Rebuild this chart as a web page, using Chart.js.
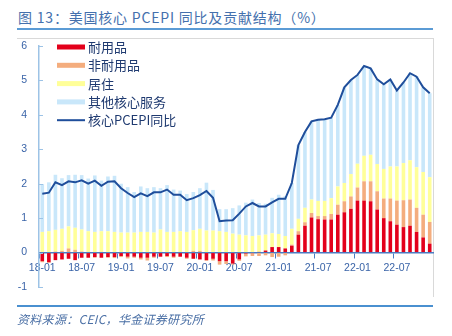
<!DOCTYPE html>
<html>
<head>
<meta charset="utf-8">
<script src="https://cdn.jsdelivr.net/npm/chart.js@4.4.1/dist/chart.umd.min.js"></script>
<style>
html,body{margin:0;padding:0;background:#fff;width:452px;height:336px;overflow:hidden;}
#wrap{position:relative;width:452px;height:336px;}
#title{position:absolute;left:18px;top:7px;line-height:20px;font-size:14px;letter-spacing:0.8px;font-family:'Noto Sans CJK SC',sans-serif;color:#4470ad;white-space:nowrap;}
#tline{position:absolute;left:17px;top:28px;width:416px;height:2px;background:#5b9bd5;}
#frameTop{position:absolute;left:17px;top:38px;width:416px;height:1px;background:#d9d9d9;}
#frameRight{position:absolute;left:433px;top:38px;width:1px;height:259px;background:#d9d9d9;}
#bline{position:absolute;left:17px;top:305px;width:416px;height:2px;background:#4a90d0;}
#src{position:absolute;left:17px;top:311px;line-height:16px;font-size:12px;letter-spacing:0.3px;font-style:italic;font-family:'Noto Sans CJK SC',sans-serif;color:#4a6fa5;white-space:nowrap;}
canvas{position:absolute;left:0;top:0;}
</style>
</head>
<body>
<div id="wrap">
  <div id="title">图 13：美国核心 PCEPI 同比及贡献结构（%）</div>
  <div id="tline"></div>
  <div id="frameTop"></div>
  <div id="frameRight"></div>
  <canvas id="c" width="452" height="336"></canvas>
  <div id="bline"></div>
  <div id="src">资料来源：CEIC，华金证券研究所</div>
</div>
<script>
const months = [
 '18-01','18-02','18-03','18-04','18-05','18-06','18-07','18-08','18-09','18-10','18-11','18-12',
 '19-01','19-02','19-03','19-04','19-05','19-06','19-07','19-08','19-09','19-10','19-11','19-12',
 '20-01','20-02','20-03','20-04','20-05','20-06','20-07','20-08','20-09','20-10','20-11','20-12',
 '21-01','21-02','21-03','21-04','21-05','21-06','21-07','21-08','21-09','21-10','21-11','21-12',
 '22-01','22-02','22-03','22-04','22-05','22-06','22-07','22-08','22-09','22-10','22-11','22-12'
];
const shownLabels = ['18-01','18-07','19-01','19-07','20-01','20-07','21-01','21-07','22-01','22-07'];

const durable = [
 -0.25,-0.28,-0.22,-0.20,-0.18,-0.22,-0.15,-0.15,-0.13,-0.15,-0.13,-0.13,
 -0.10,-0.12,-0.12,-0.15,-0.15,-0.12,-0.12,-0.10,-0.12,-0.12,-0.15,-0.18,
 -0.20,-0.22,-0.18,-0.25,-0.25,-0.32,-0.20,-0.03,-0.02,0.02,0.06,0.16,
 0.16,0.12,0.20,0.52,0.78,1.02,0.97,0.96,0.96,1.10,1.17,1.27,
 1.51,1.51,1.49,1.25,1.00,0.91,0.81,0.74,0.78,0.60,0.44,0.26
];
const nondurable = [
 -0.03,-0.02,0.03,0.05,0.12,0.08,0.03,0.02,-0.02,0.02,-0.02,-0.03,
 -0.03,-0.05,-0.03,-0.05,-0.08,-0.03,0.02,-0.03,-0.03,0.02,-0.03,0.05,
 0.05,-0.02,-0.05,-0.10,-0.08,-0.03,-0.04,-0.08,-0.08,-0.10,-0.08,-0.13,
 -0.12,-0.08,0.03,0.10,0.10,0.13,0.09,0.10,0.16,0.29,0.32,0.36,
 0.38,0.56,0.58,0.53,0.57,0.66,0.70,0.78,0.76,0.70,0.66,0.63
];
const housing = [
 0.60,0.62,0.63,0.64,0.64,0.64,0.64,0.60,0.60,0.60,0.62,0.60,
 0.58,0.58,0.58,0.60,0.60,0.58,0.65,0.60,0.60,0.60,0.60,0.60,
 0.64,0.64,0.64,0.62,0.60,0.55,0.52,0.50,0.48,0.48,0.46,0.40,
 0.38,0.36,0.46,0.36,0.42,0.39,0.44,0.44,0.46,0.53,0.53,0.65,
 0.69,0.74,0.77,0.79,0.86,0.93,0.99,1.08,1.14,1.18,1.24,1.30
];
const otherServices = [
 1.39,1.42,1.60,1.47,1.49,1.54,1.58,1.53,1.64,1.47,1.59,1.63,
 1.42,1.32,1.18,1.32,1.27,1.32,1.20,1.36,1.23,1.18,1.10,1.11,
 1.18,1.39,1.18,0.64,0.66,0.74,0.85,0.95,1.06,0.94,0.90,1.03,
 1.14,1.16,1.33,2.14,2.20,2.27,2.36,2.37,2.34,2.37,2.78,2.73,
 2.58,2.61,2.51,2.46,2.46,2.53,2.21,2.34,2.53,2.64,2.46,2.44
];
const corePCE = [
 1.71,1.74,2.04,1.96,2.07,2.04,2.10,2.00,2.09,1.94,2.06,2.07,
 1.87,1.73,1.61,1.72,1.64,1.75,1.75,1.83,1.68,1.68,1.52,1.58,
 1.67,1.79,1.59,0.91,0.93,0.94,1.13,1.34,1.44,1.34,1.34,1.46,
 1.56,1.56,2.02,3.12,3.50,3.81,3.86,3.87,3.92,4.29,4.80,5.01,
 5.16,5.42,5.35,5.03,4.89,5.03,4.71,4.94,5.21,5.11,4.80,4.63
];
const yTicks = [-1,0,1,2,3,4,5,6];

const axisColor = '#3a64a8';
const tickFont = {family:"'Liberation Sans', Arial, sans-serif", size:10.5};

const legendPlugin = {
  id:'customLegend',
  afterDraw(chart){
    const ctx = chart.ctx;
    const x0 = chart.chartArea.left + 18, sw = 28, rowH = 18.3;
    const y0 = chart.chartArea.top + 1;
    ctx.save();
    ctx.font = "13px 'Noto Sans CJK SC'";
    ctx.textBaseline = 'middle';
    ctx.textAlign = 'left';
    chart.data.datasets.forEach((ds,k)=>{
      const y = y0 + k*rowH;
      if (ds.type === 'line') {
        ctx.strokeStyle = ds.borderColor; ctx.lineWidth = 2;
        ctx.beginPath(); ctx.moveTo(x0,y); ctx.lineTo(x0+sw,y); ctx.stroke();
      } else {
        ctx.fillStyle = ds.backgroundColor;
        ctx.fillRect(x0, y-2.5, sw, 5);
      }
      ctx.fillStyle = '#1f3a70';
      ctx.fillText(ds.label, x0+sw+3, y);
    });
    ctx.restore();
  }
};
const yTickPlugin = {
  id:'yInnerTicks',
  afterDraw(chart){
    const ctx = chart.ctx, ys = chart.scales.y, left = chart.chartArea.left;
    ctx.save();
    ctx.strokeStyle = '#9dc3e6'; ctx.lineWidth = 1;
    yTicks.forEach(v=>{
      const p = Math.round(ys.getPixelForValue(v)) + 0.5;
      ctx.beginPath(); ctx.moveTo(left, p); ctx.lineTo(left+4, p); ctx.stroke();
    });
    ctx.restore();
  }
};

const barBase = {type:'bar', barPercentage:0.55, categoryPercentage:1, borderWidth:0, order:1, stack:'s'};

new Chart(document.getElementById('c'), {
  data:{
    labels: months,
    datasets:[
      Object.assign({label:'耐用品', data:durable, backgroundColor:'#e3001b'}, barBase),
      Object.assign({label:'非耐用品', data:nondurable, backgroundColor:'#f4ad7e'}, barBase),
      Object.assign({label:'居住', data:housing, backgroundColor:'#ffff99'}, barBase),
      Object.assign({label:'其他核心服务', data:otherServices, backgroundColor:'#c9e7fa'}, barBase),
      {type:'line', label:'核心PCEPI同比', data:corePCE, borderColor:'#1f4e9b', backgroundColor:'#1f4e9b',
       borderWidth:2, pointRadius:0, tension:0, order:0, stack:'line', fill:false}
    ]
  },
  options:{
    responsive:false, animation:false, devicePixelRatio:1,
    layout:{padding:{left:0, top:46, right:19, bottom:49}},
    plugins:{legend:{display:false}, tooltip:{enabled:false}},
    scales:{
      x:{
        type:'category', position:{y:0}, offset:true, z:1,
        grid:{display:true, drawOnChartArea:false, drawTicks:true, tickLength:5, offset:true,
              tickColor:(c)=> (c.index % 6 === 0 ? '#4a7cc4' : 'rgba(0,0,0,0)'), tickWidth:1},
        border:{display:true, color:'#4a7cc4', width:1.5},
        ticks:{autoSkip:false, maxRotation:0, minRotation:0, padding:4, color:axisColor, font:tickFont,
               callback:(v,i)=> (shownLabels.includes(months[i]) ? months[i] : '')}
      },
      y:{
        stacked:true, min:-1, max:6,
        afterFit:(s)=>{ s.width = 39; },
        grid:{display:true, drawOnChartArea:false, drawTicks:false},
        border:{display:true, color:'#9dc3e6', width:1.5},
        ticks:{stepSize:1, padding:12, color:axisColor, font:tickFont}
      }
    }
  },
  plugins:[legendPlugin, yTickPlugin]
});
</script>
</body>
</html>
